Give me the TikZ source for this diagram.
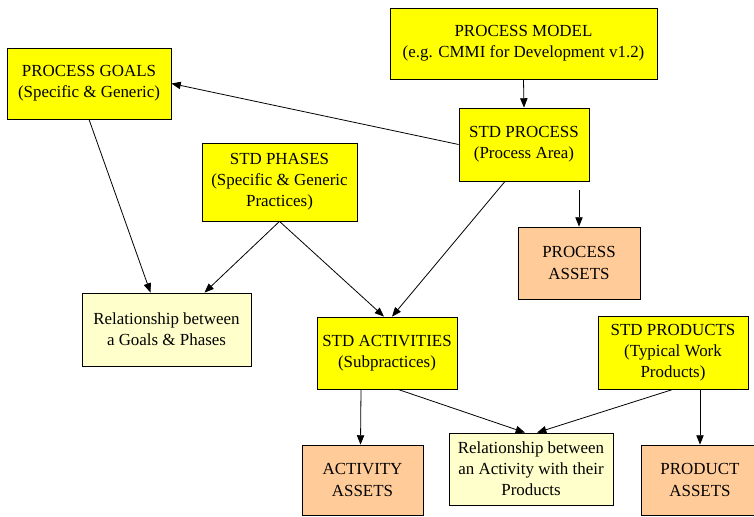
\documentclass[tikz,border=0pt]{standalone}
\usepackage{fontspec}
\setmainfont{Liberation Serif}
\usetikzlibrary{arrows.meta}
\definecolor{boxyellow}{HTML}{FFFF00}
\definecolor{paleyellow}{HTML}{FFFFCC}
\definecolor{peach}{HTML}{FFCC99}
\tikzset{
  box/.style={draw=black, line width=0.6pt, align=center, inner sep=0pt,
    font=\fontsize{12.7}{15.8}\selectfont},
  stdbox/.style={box, fill=boxyellow},
  relbox/.style={box, fill=paleyellow},
  assetbox/.style={box, fill=peach},
  link/.style={draw=black, line width=0.6pt, -{Triangle[length=7pt,width=5.5pt]}}
}
\begin{document}
\begin{tikzpicture}[x=0.75pt, y=-0.75pt]
\useasboundingbox (0,0) rectangle (754,517);
\clip (0,0) rectangle (754,517);
\fill[white] (0,0) rectangle (754,517);

% upper row
\node[stdbox, minimum width=200.25pt, minimum height=53.25pt] (model) at (523.5,43.5)
  {PROCESS MODEL\\(e.g. CMMI for Development v1.2)};
\node[stdbox, minimum width=97.5pt, minimum height=54.75pt] (process) at (524,144.5)
  {STD PROCESS\\(Process Area)};
\node[stdbox, minimum width=123pt, minimum height=53.25pt] (goals) at (89,83.5)
  {PROCESS GOALS\\(Specific \& Generic)};
\node[stdbox, minimum width=116.25pt, minimum height=58.5pt] (phases) at (279.5,182)
  {STD PHASES\\(Specific \& Generic\\Practices)};
\node[assetbox, minimum width=91.5pt, minimum height=54pt] (procassets) at (579,263)
  {PROCESS\\ASSETS};

% middle row
\node[relbox, minimum width=126.75pt, minimum height=54.75pt] (relgp) at (166.5,329.5)
  {Relationship between\\a Goals \& Phases};
\node[stdbox, minimum width=105pt, minimum height=54pt] (activities) at (387,353)
  {STD ACTIVITIES\\(Subpractices)};
\node[stdbox, minimum width=112.5pt, minimum height=54.75pt] (products) at (673,352.5)
  {STD PRODUCTS\\(Typical Work\\Products)};

% bottom row
\node[assetbox, minimum width=90.75pt, minimum height=52.5pt] (actassets) at (362.5,480)
  {ACTIVITY\\ASSETS};
\node[relbox, minimum width=123pt, minimum height=54pt] (relap) at (531,469)
  {Relationship between\\an Activity with their\\Products};
\node[assetbox, minimum width=88.5pt, minimum height=52.5pt] (prodassets) at (700,480)
  {PRODUCT\\ASSETS};

\coordinate (assetsfeed) at (579,190);

% connectors
\draw[link] (model.south) -- (process.north);
\draw[link] (process.west) -- (goals.east);
\draw[link] (goals.south) -- ([xshift=-12pt]relgp.north);
\draw[link] (phases.south) -- ([xshift=28.5pt]relgp.north);
\draw[link] (phases.south) -- ([xshift=-2.25pt]activities.north);
\draw[link] ([xshift=-14.25pt]process.south) -- ([xshift=3.75pt]activities.north);
\draw[link] (assetsfeed) -- (procassets.north);
\draw[link] ([xshift=-19.5pt]activities.south) -- ([xshift=-1.5pt]actassets.north |- actassets.north);
\draw[link] ([xshift=8.25pt]activities.south) -- ([xshift=-4.5pt]relap.north);
\draw[link] (products.south) -- ([xshift=4.5pt]relap.north);
\draw[link] ([xshift=20.25pt]products.south) -- ([xshift=0pt]prodassets.north);
\end{tikzpicture}
\end{document}
